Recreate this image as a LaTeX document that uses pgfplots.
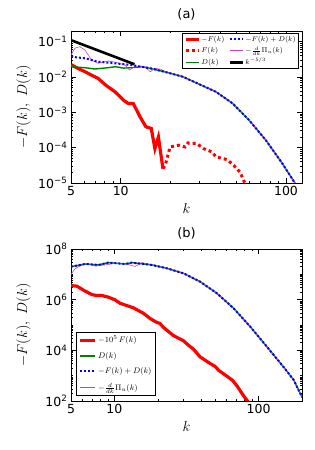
\documentclass[border=0pt]{standalone}
\usepackage{pgfplots}
\pgfplotsset{compat=1.18}
\usepackage{fontspec}
\setmainfont{DejaVu Sans}
\definecolor{mplgreen}{rgb}{0,0.5,0}
\definecolor{mplmag}{RGB}{200,60,210}
\newcommand\mytkl{\fontsize{12.5}{14}\selectfont}
\newcommand\mylbl{\fontsize{15}{17}\selectfont}
\newcommand\myttl{\fontsize{13}{15}\selectfont}
\newcommand\mylga{\fontsize{7}{8}\selectfont}
\newcommand\mylgb{\fontsize{8.3}{9.5}\selectfont}
\begin{document}
\begin{tikzpicture}
\path[use as bounding box] (0pt,0pt) rectangle (315pt,450pt);
% ---------------- panel (a) ----------------
\begin{axis}[xmode=log, ymode=log, scale only axis, width=231pt, height=152pt,
  at={(71pt,267pt)}, anchor=south west,
  axis line style={black, line width=0.9pt},
  tick align=inside, major tick length=5pt, minor tick length=2.5pt,
  tick style={black, line width=0.6pt},
  /pgf/number format/assume math mode=true,
  xtick={5,10,100}, xticklabels={{\mytkl 5},{\mytkl 10},{\mytkl 100}},
  xlabel={\mylbl $k$}, ylabel={\mylbl $-F(k),\ D(k)$},
  xlabel style={at={(axis description cs:0.5,-0.165)}, anchor=center},
  ylabel style={at={(axis description cs:-0.205,0.5)}, anchor=center},
  title={\myttl (a)},
  title style={at={(axis description cs:0.5,1.072)}, anchor=center},
  legend cell align=left,
  legend image code/.code={\draw[#1] (0pt,0pt) -- (13pt,0pt);},
  xmin=5, xmax=125, ymin=1e-5, ymax=0.2,
  minor xtick={6,7,8,9,20,30,40,50,60,70,80,90},
  ytick={1e-5,1e-4,1e-3,1e-2,1e-1},
  yticklabels={{\mytkl 10\textsuperscript{−5}},{\mytkl 10\textsuperscript{−4}},{\mytkl 10\textsuperscript{−3}},{\mytkl 10\textsuperscript{−2}},{\mytkl 10\textsuperscript{−1}}},
  minor ytick={2e-5,3e-5,4e-5,5e-5,6e-5,7e-5,8e-5,9e-5,2e-4,3e-4,4e-4,5e-4,6e-4,7e-4,8e-4,9e-4,2e-3,3e-3,4e-3,5e-3,6e-3,7e-3,8e-3,9e-3,2e-2,3e-2,4e-2,5e-2,6e-2,7e-2,8e-2,9e-2,0.2},
  legend columns=2,
  legend style={at={(0.985,0.987)}, anchor=north east,
    draw=black, line width=0.9pt, inner sep=1.2pt, row sep=1.6pt,
    nodes={inner sep=1.2pt},
    /tikz/every even column/.append style={column sep=3pt}},
]
% red -F(k)
\addplot[red, line width=3.2pt, forget plot] coordinates {
(5,0.0225) (5.5,0.0175) (6.07,0.0141) (6.6,0.0115) (7.3,0.0091) (8.1,0.0059) (9.24,0.0038)
(10.4,0.0022) (11.1,0.00178) (11.9,0.00178) (13.1,0.00074) (14.2,0.00039) (15.3,0.00035)
(16.1,9.4e-5) (16.9,2.0e-4) (18.0,2.55e-5)};
% red dotted F(k)
\addplot[red, line width=3pt, dash pattern=on 3pt off 3pt, forget plot] coordinates {
(18.0,2.55e-5) (18.6,3.2e-5) (19.9,1.05e-4) (22.4,1.17e-4) (24.5,1.05e-4) (25.5,1.36e-4)
(28.9,1.3e-4) (31.7,9.4e-5) (35.6,7.6e-5) (37.7,5.5e-5) (43.9,4.6e-5) (48.2,3.2e-5)
(52.8,2.0e-5) (56,1.07e-5) (60,7e-6)};
% green D(k)
\addplot[mplgreen, line width=1.4pt, forget plot] coordinates {
(5,0.0195) (6.07,0.0183) (6.97,0.0168) (8.39,0.0183) (9.3,0.0195) (10.4,0.0178) (11.6,0.0183)
(13.4,0.0195) (15,0.0176) (19,0.0135) (23.7,0.0102) (37.7,0.0038) (47.5,0.00179)
(59.8,6.0e-4) (75.5,1.63e-4) (95.1,3.55e-5) (114,9.5e-6) (125,4e-6)};
% magenta
\addplot[mplmag, line width=0.6pt, forget plot] coordinates {
(5,0.042) (5.28,0.065) (5.65,0.072) (6.07,0.058) (6.66,0.030) (7.3,0.0244) (8.39,0.0283)
(9.3,0.026) (10.6,0.0218) (11.3,0.0157) (12.1,0.0195) (14.0,0.0195) (15.1,0.0141)
(16.1,0.0176) (17.5,0.0165) (19,0.0135) (23.7,0.0102) (37.7,0.0038) (47.5,0.00179)
(59.8,6.0e-4) (75.5,1.63e-4) (95.1,3.55e-5) (114,9.5e-6) (125,4e-6)};
% blue -F+D
\addplot[blue, line width=2pt, dash pattern=on 2pt off 2pt, forget plot] coordinates {
(5,0.0375) (6.07,0.0338) (7.3,0.027) (9.2,0.0244) (11.6,0.0218) (13.4,0.0195) (15,0.0178)
(19,0.0135) (23.7,0.0102) (37.7,0.0038) (47.5,0.00179)
(59.8,6.0e-4) (75.5,1.63e-4) (95.1,3.55e-5) (114,9.5e-6) (125,4e-6)};
% black k^-5/3
\addplot[black, line width=2.6pt, forget plot] coordinates {(5,0.11) (12.1,0.0229)};
\addlegendimage{red, line width=3.2pt}
\addlegendentry{\mylga $-F(k)$}
\addlegendimage{blue, line width=2pt, dash pattern=on 2pt off 2pt}
\addlegendentry{\mylga $-F(k)+D(k)$}
\addlegendimage{red, line width=3pt, dash pattern=on 3pt off 3pt}
\addlegendentry{\mylga $F(k)$}
\addlegendimage{mplmag, line width=0.6pt}
\addlegendentry{\mylga $-\frac{d}{dk}\Pi_u(k)$}
\addlegendimage{mplgreen, line width=1.4pt}
\addlegendentry{\mylga $D(k)$}
\addlegendimage{black, line width=2.6pt}
\addlegendentry{\mylga $k^{-5/3}$}
\end{axis}
% ---------------- panel (b) ----------------
\begin{axis}[xmode=log, ymode=log, scale only axis, width=231pt, height=152pt,
  at={(71pt,49pt)}, anchor=south west,
  axis line style={black, line width=0.9pt},
  tick align=inside, major tick length=5pt, minor tick length=2.5pt,
  tick style={black, line width=0.6pt},
  /pgf/number format/assume math mode=true,
  xtick={5,10,100}, xticklabels={{\mytkl 5},{\mytkl 10},{\mytkl 100}},
  xlabel={\mylbl $k$}, ylabel={\mylbl $-F(k),\ D(k)$},
  xlabel style={at={(axis description cs:0.5,-0.165)}, anchor=center},
  ylabel style={at={(axis description cs:-0.205,0.5)}, anchor=center},
  title={\myttl (b)},
  title style={at={(axis description cs:0.5,1.062)}, anchor=center},
  legend cell align=left,
  legend image code/.code={\draw[#1] (0pt,0pt) -- (15pt,0pt);},
  xmin=5, xmax=200, ymin=1e2, ymax=1e8,
  minor xtick={6,7,8,9,20,30,40,50,60,70,80,90},
  ytick={1e2,1e4,1e6,1e8},
  yticklabels={{\mytkl 10\textsuperscript{2}},{\mytkl 10\textsuperscript{4}},{\mytkl 10\textsuperscript{6}},{\mytkl 10\textsuperscript{8}}},
  minor ytick={2e2,3e2,4e2,5e2,6e2,7e2,8e2,9e2,1e3,2e3,3e3,4e3,5e3,6e3,7e3,8e3,9e3,
    2e4,3e4,4e4,5e4,6e4,7e4,8e4,9e4,1e5,2e5,3e5,4e5,5e5,6e5,7e5,8e5,9e5,
    2e6,3e6,4e6,5e6,6e6,7e6,8e6,9e6,1e7,2e7,3e7,4e7,5e7,6e7,7e7,8e7,9e7},
  legend style={at={(0.022,0.032)}, anchor=south west,
    draw=black, line width=0.9pt, inner sep=2pt, row sep=5pt,
    nodes={inner sep=1.5pt}},
]
% red -10^5 F
\addplot[red, line width=3.2pt, forget plot] coordinates {
(5,3.6e6) (5.5,3.4e6) (6.08,2.4e6) (6.95,1.6e6) (7.54,1.45e6) (8.2,1.45e6) (9.1,1.25e6)
(10.1,9.8e5) (10.95,7.2e5) (13.5,4.8e5) (15.9,2.9e5) (17.7,1.8e5) (19.5,1.3e5) (20.7,1.15e5)
(21.9,8.0e4) (25.7,3.8e4) (30.1,2.4e4) (33,1.5e4) (35.4,1.1e4) (39.3,5.5e3) (46.2,3.0e3)
(50,2.3e3) (53,1.6e3) (60.3,9.5e2) (66,6.5e2) (70.7,4.0e2) (78.7,1.6e2) (85,9e1)};
% green
\addplot[mplgreen, line width=1.4pt, forget plot] coordinates {
(5,2.0e7) (6.25,2.56e7) (7.74,2.35e7) (9.08,2.9e7) (11.9,2.56e7) (13.2,2.9e7) (18.2,2.35e7)
(23.1,1.73e7) (30.1,1.1e7) (39.4,5.1e6) (51.4,1.78e6) (67,4.6e5) (87.5,8.6e4)
(114,1.4e4) (149,2.2e3) (175,680) (197,172) (200,140)};
% magenta
\addplot[mplmag, line width=0.6pt, forget plot] coordinates {
(5,1.0e7) (5.3,1.6e7) (5.62,2.0e7) (6.43,2.7e7) (7.35,2.1e7) (8.62,2.35e7) (10.1,2.7e7)
(12,2.6e7) (13.9,2.05e7) (15.5,2.9e7) (18.2,2.35e7)
(23.1,1.73e7) (30.1,1.1e7) (39.4,5.1e6) (51.4,1.78e6) (67,4.6e5) (87.5,8.6e4)
(114,1.4e4) (149,2.2e3) (175,680) (197,172) (200,140)};
% blue
\addplot[blue, line width=2pt, dash pattern=on 2pt off 2pt, forget plot] coordinates {
(5,2.0e7) (6.25,2.56e7) (7.74,2.35e7) (9.08,2.9e7) (11.9,2.56e7) (13.2,2.9e7) (18.2,2.35e7)
(23.1,1.73e7) (30.1,1.1e7) (39.4,5.1e6) (51.4,1.78e6) (67,4.6e5) (87.5,8.6e4)
(114,1.4e4) (149,2.2e3) (175,680) (197,172) (200,140)};
\addlegendimage{red, line width=3.2pt}
\addlegendentry{\mylgb $-10^5\,F(k)$}
\addlegendimage{mplgreen, line width=1.4pt}
\addlegendentry{\mylgb $D(k)$}
\addlegendimage{blue, line width=2pt, dash pattern=on 2pt off 2pt}
\addlegendentry{\mylgb $-F(k)+D(k)$}
\addlegendimage{mplmag, line width=0.6pt}
\addlegendentry{\mylgb $-\frac{d}{dk}\Pi_u(k)$}
\end{axis}
\end{tikzpicture}
\end{document}
